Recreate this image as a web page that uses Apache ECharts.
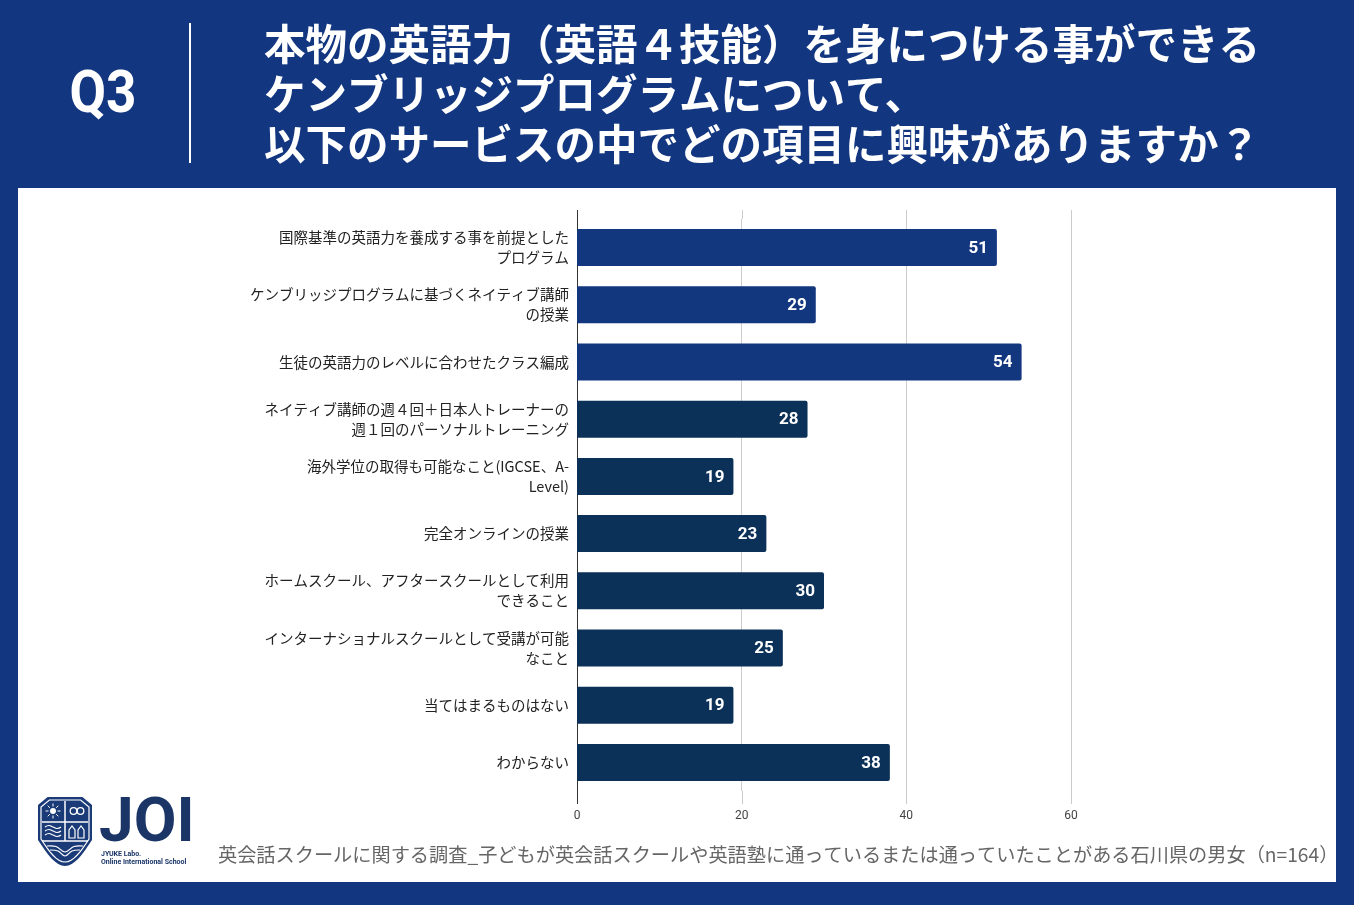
<!DOCTYPE html>
<html><head><meta charset="utf-8">
<script src="https://cdn.jsdelivr.net/npm/echarts@6/dist/echarts.min.js"></script>
<style>html,body{margin:0;padding:0;background:#fff}#c{width:1354px;height:905px}</style>
</head><body><div id="c"></div>
<script>
const categories = [
  '国際基準の英語力を養成する事を前提とした\nプログラム',
  'ケンブリッジプログラムに基づくネイティブ講師\nの授業',
  '生徒の英語力のレベルに合わせたクラス編成',
  'ネイティブ講師の週４回＋日本人トレーナーの\n週１回のパーソナルトレーニング',
  '海外学位の取得も可能なこと(IGCSE、A-\nLevel)',
  '完全オンラインの授業',
  'ホームスクール、アフタースクールとして利用\nできること',
  'インターナショナルスクールとして受講が可能\nなこと',
  '当てはまるものはない',
  'わからない'
];
const values = [51, 29, 54, 28, 19, 23, 30, 25, 19, 38];
const xTicks = [0, 20, 40, 60];
const questionLabel = 'Q3';
const titleLines = [
  '本物の英語力（英語４技能）を身につける事ができる',
  'ケンブリッジプログラムについて、',
  '以下のサービスの中でどの項目に興味がありますか？'
];
const footnote = '英会話スクールに関する調査_子どもが英会話スクールや英語塾に通っているまたは通っていたことがある石川県の男女（n=164）';
const logoText = 'JOI';
const logoSub = ['JYUKE Labo.', 'Online International School'];

const NAVY = '#12367f';
const BAR_A = '#13377f';
const BAR_B = '#0b3158';
const JP = '"Noto Sans CJK JP", "Noto Sans", sans-serif';

const chart = echarts.init(document.getElementById('c'), null, {renderer: 'canvas'});

function shieldPts(l, r, t, chamf, sideBottom, tip) {
  const cx = (l + r) / 2;
  const pts = [[l + chamf * 1.2, t], [r - chamf * 1.2, t], [r, t + chamf], [r, sideBottom]];
  for (let k = 1; k <= 8; k++) {
    const s = k / 8;
    pts.push([r + (cx - r) * s, sideBottom + (tip - sideBottom) * Math.sin(s * Math.PI / 2)]);
  }
  for (let k = 7; k >= 0; k--) {
    const s = k / 8;
    pts.push([l + (cx - l) * s, sideBottom + (tip - sideBottom) * Math.sin(s * Math.PI / 2)]);
  }
  pts.push([l, t + chamf]);
  return pts;
}

function baseGraphics() {
  const g = [];
  g.push({type:'rect', shape:{x:0,y:0,width:1354,height:188}, style:{fill:NAVY}});
  g.push({type:'rect', shape:{x:0,y:882,width:1354,height:23}, style:{fill:NAVY}});
  g.push({type:'rect', shape:{x:0,y:0,width:18,height:905}, style:{fill:NAVY}});
  g.push({type:'rect', shape:{x:1336,y:0,width:18,height:905}, style:{fill:NAVY}});
  g.push({type:'text', x:103, y:97, scaleY:1.13, style:{text:questionLabel, fill:'#fff', font:'bold 53px Roboto, sans-serif', align:'center', verticalAlign:'middle'}});
  g.push({type:'line', shape:{x1:190,y1:23,x2:190,y2:163}, style:{stroke:'#fff', lineWidth:2}});
  titleLines.forEach((t, i) => {
    g.push({type:'text', x:264, y:44 + i * 50, style:{text:t, fill:'#fff', font:'bold 41.5px ' + JP, align:'left', verticalAlign:'middle'}});
  });
  g.push({type:'text', x:218, y:855, style:{text:footnote, fill:'#666', font:'19.2px ' + JP, align:'left', verticalAlign:'middle'}});
  const LC = '#1b3a78';
  g.push({type:'polygon', shape:{points: shieldPts(38, 92, 797, 8, 840, 866)}, style:{fill:LC}});
  g.push({type:'polygon', shape:{points: shieldPts(41, 89, 800, 7, 839, 862)}, style:{fill:'none', stroke:'#fff', lineWidth:1.2}});
  g.push({type:'line', shape:{x1:65,y1:801,x2:65,y2:841}, style:{stroke:'#fff', lineWidth:1.5}});
  g.push({type:'line', shape:{x1:42,y1:822,x2:88,y2:822}, style:{stroke:'#fff', lineWidth:1.5}});
  g.push({type:'line', shape:{x1:42,y1:841,x2:88,y2:841}, style:{stroke:'#fff', lineWidth:1.5}});
  g.push({type:'circle', shape:{cx:53,cy:811,r:3}, style:{fill:'#fff'}});
  for (let k = 0; k < 8; k++) {
    const a = k * Math.PI / 4;
    g.push({type:'line', shape:{x1:53+Math.cos(a)*4.5,y1:811+Math.sin(a)*4.5,x2:53+Math.cos(a)*7.5,y2:811+Math.sin(a)*7.5}, style:{stroke:'#fff', lineWidth:1}});
  }
  g.push({type:'circle', shape:{cx:73.5,cy:811,r:3.3}, style:{fill:'none', stroke:'#fff', lineWidth:1.3}});
  g.push({type:'circle', shape:{cx:80.5,cy:811,r:3.3}, style:{fill:'none', stroke:'#fff', lineWidth:1.3}});
  [827, 831, 835].forEach(y => {
    g.push({type:'polyline', shape:{points:[[45,y],[49,y-1.5],[53,y],[57,y+1.5],[61,y]], smooth:0.5}, style:{fill:'none', stroke:'#fff', lineWidth:1.2}});
  });
  g.push({type:'polygon', shape:{points:[[69,838],[69,830],[72,826],[75,830],[75,838]]}, style:{fill:'none', stroke:'#fff', lineWidth:1.2}});
  g.push({type:'polygon', shape:{points:[[78,838],[78,830],[81,826],[84,830],[84,838]]}, style:{fill:'none', stroke:'#fff', lineWidth:1.2}});
  g.push({type:'polyline', shape:{points:[[47,846],[56,846.5],[65,852],[74,846.5],[83,846]], smooth:0.4}, style:{fill:'none', stroke:'#fff', lineWidth:1.2}});
  g.push({type:'polyline', shape:{points:[[50,850],[58,851],[65,856],[72,851],[80,850]], smooth:0.4}, style:{fill:'none', stroke:'#fff', lineWidth:1.2}});
  g.push({type:'text', x:99, y:825, style:{text:logoText, fill:'#1a3566', font:'bold 62px Roboto, sans-serif', align:'left', verticalAlign:'middle'}});
  g.push({type:'text', x:101, y:854, style:{text:logoSub[0], fill:'#1a3566', font:'bold 7px Roboto, sans-serif', align:'left', verticalAlign:'middle'}});
  g.push({type:'text', x:101, y:862, style:{text:logoSub[1], fill:'#1a3566', font:'bold 7px Roboto, sans-serif', align:'left', verticalAlign:'middle'}});
  return g;
}

const option = {
  backgroundColor: '#fff',
  animation: false,
  grid: {left: 577, right: 283, top: 219, height: 572, containLabel: false},
  xAxis: {
    type: 'value', min: 0, max: 60, interval: 20,
    axisLine: {show: false}, axisTick: {show: false},
    splitLine: {show: true, lineStyle: {color: '#cccccc', width: 1}},
    axisLabel: {color: '#444', fontSize: 12, margin: 19, fontFamily: 'Roboto, sans-serif',
      formatter: v => xTicks.includes(v) ? String(v) : ''}
  },
  yAxis: {
    type: 'category', inverse: true, data: categories,
    axisLine: {show: true, lineStyle: {color: '#333', width: 1}},
    axisTick: {show: false},
    axisLabel: {color: '#222', fontSize: 14.5, lineHeight: 20, margin: 8, fontFamily: JP, align: 'right'}
  },
  series: [{
    type: 'bar',
    barWidth: 37,
    data: values.map((v, i) => ({value: v, itemStyle: {color: i < 3 ? BAR_A : BAR_B}})),
    itemStyle: {borderRadius: [0, 2, 2, 0]},
    label: {show: true, position: 'insideRight', distance: 9, color: '#fff', fontSize: 17, fontWeight: 'bold', fontFamily: 'Roboto, sans-serif', offset: [0, 1]}
  }],
  graphic: baseGraphics()
};
chart.setOption(option);

const ext = [];
xTicks.forEach(v => {
  const px = Math.round(chart.convertToPixel({xAxisIndex: 0}, v)) + 0.5;
  const col = v === 0 ? '#333' : '#cccccc';
  ext.push({type:'line', shape:{x1:px, y1:210, x2:px, y2:219}, style:{stroke:col, lineWidth:1}});
  ext.push({type:'line', shape:{x1:px, y1:791, x2:px, y2:804}, style:{stroke:col, lineWidth:1}});
});
chart.setOption({graphic: baseGraphics().concat(ext)}, {replaceMerge: ['graphic']});
</script>
</body></html>
